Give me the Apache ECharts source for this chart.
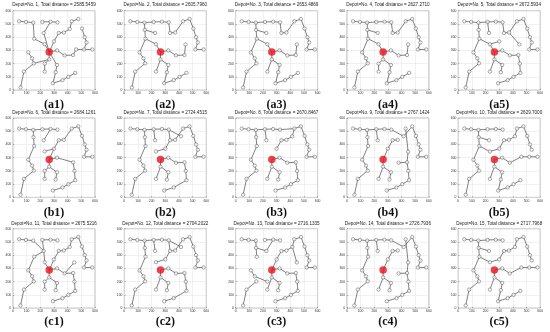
<!DOCTYPE html>
<html><head><meta charset="utf-8">
<script src="https://cdn.jsdelivr.net/npm/echarts@6/dist/echarts.min.js"></script>
<style>html,body{margin:0;padding:0;background:#fff}#c{width:550px;height:332px}</style>
</head><body><div id="c"></div>
<script>
// customer / depot coordinates (index 0 = depot)
const nodes = [
  [265,287],[45,520],[95,515],[148,510],[215,515],[275,517],[325,512],[150,455],[225,432],[155,388],
  [232,347],[300,368],[335,432],[372,435],[415,462],[430,520],[478,537],[505,465],[525,400],[538,360],
  [520,307],[580,307],[448,345],[440,265],[378,262],[322,300],[112,285],[140,240],[152,202],[80,140],
  [55,20],[232,200],[232,140],[322,190],[312,135],[292,52],[362,75],[405,100],[455,130],[450,200],
  [462,307],[265,232]
];
const depotNo = [1,2,3,4,5,6,7,8,9,10,11,12,13,14,15];
const totalDistance = ['2585.5459','2605.7960','2653.4869','2627.2710','2672.5934','2684.1261','2724.4515','2670.8467','2767.1424','2629.7000','2675.5216','2704.2022','2716.1335','2726.7936','2717.7968'];
const panelLabels = ['(a1)','(a2)','(a3)','(a4)','(a5)','(b1)','(b2)','(b3)','(b4)','(b5)','(c1)','(c2)','(c3)','(c4)','(c5)'];
const tickValues = [0,100,200,300,400,500,600];

const routesA1 = [[0,11,12,13,14,15,16],[0,10,9,3,2,1],[0,8,5,4],[5,6],[0,25,24,23,40,20,21],[20,19,18,17],[0,41,28,27,26],[41,31,32],[28,29,30],[0,33,34,35,36,37,38]];
const routesA2 = [[0,10,9,7,3],[1,2,3,4,5,6,12,13,15,16,17,18,19,20,21],[7,8],[0,25,24,23,22],[9,26,27,28,29,30],[0,41,32],[41,33,34,35,36,37,38]];
const routesA3 = [[0,10,9,7,3],[1,2,3,4,5,6,12,13,15,16,17,18,19,20,21],[7,8],[0,25,24,23,22],[9,26,27,28,29,30],[0,41,32],[41,33,34,35,36,37,38]];
const routesA4 = [[0,10,9,7,3],[1,2,3,4,5,6,12,13,15,16,17,18,19,20,21],[7,8],[0,25,24,23,22],[9,26,27,28,29,30],[0,41,31,32],[41,33,34,35,36,37,38]];
const routesA5 = [[1,2,3,4,5,6,12,13,15,16,17,18,19,20,21],[13,22],[4,8],[0,10,9,7,3],[10,11],[9,26,27,28,29,30],[0,25,24,23,39,38,37,36,35],[0,41,32],[41,33,34]];
const routesB1 = [[1,2,3,4,5,6],[3,7,9,26,27,28,29,30],[5,8],[0,11,12,13,15,16,17,18,19,20,21],[11,10],[0,25,23,39,38,37,36,35],[0,41,31,32],[41,33,34]];
const routesB2 = [[1,2,3,4,5,6,12,13,15,16,17,18,19,20,21],[4,8],[6,14],[3,7,9,26,27,28,29,30],[10,11,12],[0,25,24,23,39,38,36,35],[0,41,32],[41,33,34]];
const routesB3 = [[1,2,3,4,5,6,15,16,17,18,19,20,21],[15,14,13,12,11],[4,8],[3,7,9,26,27,28,29,30],[0,25,24,23,39,38,37,36,35],[0,41,32],[41,33,34]];
const routesB4 = [[1,2,3,4,5,6,14,16,17,18,19,20,21],[4,8],[3,7,9,26,27,28,29,30],[15,22,23,39,38,37,36,35],[0,11,12,13],[23,24],[0,41,32],[41,33,34]];
const routesB5 = [[1,2,3,4,5,6],[3,7,8],[7,9,26,27,28,29,30],[9,10,11,12,13,14,15,16,17,18,19],[0,25,24,40,20,21],[0,41,32],[41,33,34,35,36,37,38]];
const routesC1 = [[0,10,8,3,2,1],[8,4,5,6],[8,9,26,27,28,29,30],[0,11,12,13,14,15,16,17,18,19,20,21],[0,25,24,23,39,38,37,36,35],[24,22],[0,41,31,32],[41,33,34]];
const routesC2 = [[1,2,3,4,5,6,12,13,15,16,17,18,19,20,21],[4,8],[6,14],[3,7,9,26,27,28,29,30],[10,11,12],[0,25,24,23,39,38,36,35],[0,41,32],[41,33,34]];
const routesC3 = [[1,2,3,7,9],[4,5,6],[5,8,7],[0,11,12,13,14,15,16,17,18,19,20,21],[14,22],[0,25,24,23,39,38,37,36,35],[0,41,32],[41,33,34],[26,27,31],[28,29,30]];
const routesC4 = [[1,2,3,4,5,6,14,16,17,18,19,20,21],[4,8],[3,7,9,26,27,28,29,30],[15,22,23,39,38,37,36,35],[0,11,12,13],[23,24],[0,41,32],[41,33,34]];
const routesC5 = [[1,2,3,4,5,6],[3,7,8],[7,9,26,27,28,29,30],[9,10,11,12,13,14,15,16,17,18,19],[0,25,24,40,20,21],[0,41,32],[41,33,34,35,36,37,38]];

const panels = [routesA1,routesA2,routesA3,routesA4,routesA5,routesB1,routesB2,routesB3,routesB4,routesB5,routesC1,routesC2,routesC3,routesC4,routesC5];

const colLeft = [13,124.3,235.6,346.9,458.2];
const rowTop = [10.7,118,228.7];
const W = 82, H = 79.4;
const titleY = [5.2,113.2,223.5];
const labelY = [105,213,322];

const option = {animation:false, grid:[], xAxis:[], yAxis:[], series:[], graphic:[]};
const axisCommon = {
  type:'value', min:0, max:600, interval:100,
  axisLine:{show:false},
  axisTick:{show:true, inside:true, length:1.2, lineStyle:{color:'#666', width:0.5}},
  splitLine:{show:true, lineStyle:{color:'#e3e3e3', width:0.5}},
  axisLabel:{fontSize:3.4, color:'#333', fontFamily:'Liberation Sans, Arial, sans-serif'}
};
panels.forEach((routes,i)=>{
  const r = Math.floor(i/5), c = i%5;
  option.grid.push({left:colLeft[c], top:rowTop[r], width:W, height:H, show:true, borderColor:'#8c8c8c', borderWidth:0.6, backgroundColor:'#fff'});
  option.xAxis.push(Object.assign({}, axisCommon, {gridIndex:i, axisLabel:Object.assign({}, axisCommon.axisLabel, {margin:1.8})}));
  option.yAxis.push(Object.assign({}, axisCommon, {gridIndex:i, axisLabel:Object.assign({}, axisCommon.axisLabel, {margin:1.8})}));
  const used = new Set();
  routes.forEach(rt=>{
    rt.forEach(k=>used.add(k));
    option.series.push({type:'line', xAxisIndex:i, yAxisIndex:i, silent:true, showSymbol:false, symbol:'none',
      lineStyle:{color:'#4a4a4a', width:0.7}, data:rt.map(k=>nodes[k])});
  });
  used.delete(0);
  option.series.push({type:'scatter', xAxisIndex:i, yAxisIndex:i, silent:true, symbolSize:3.4,
    itemStyle:{color:'#ffffff', borderColor:'#4a4a4a', borderWidth:0.6}, z:3,
    data:[...used].map(k=>nodes[k])});
  option.series.push({type:'scatter', xAxisIndex:i, yAxisIndex:i, silent:true, symbolSize:7.5,
    itemStyle:{color:'#e8131b'}, z:4, data:[nodes[0]]});
  const cx = colLeft[c] + W/2;
  option.graphic.push({type:'text', x:cx, y:titleY[r], silent:true,
    style:{text:'Depot=No. '+depotNo[i]+', Total distance = '+totalDistance[i], fill:'#222',
      font:'4.6px "Liberation Sans", Arial, sans-serif', textAlign:'center', align:'center', textVerticalAlign:'middle', verticalAlign:'middle'}});
  option.graphic.push({type:'text', x:cx, y:labelY[r], silent:true,
    style:{text:panelLabels[i], fill:'#111',
      font:'bold 12px "Liberation Serif", "Times New Roman", serif', textAlign:'center', align:'center', textVerticalAlign:'middle', verticalAlign:'middle'}});
});
const chart = echarts.init(document.getElementById('c'), null, {renderer:'canvas'});
chart.setOption(option);
</script></body></html>
